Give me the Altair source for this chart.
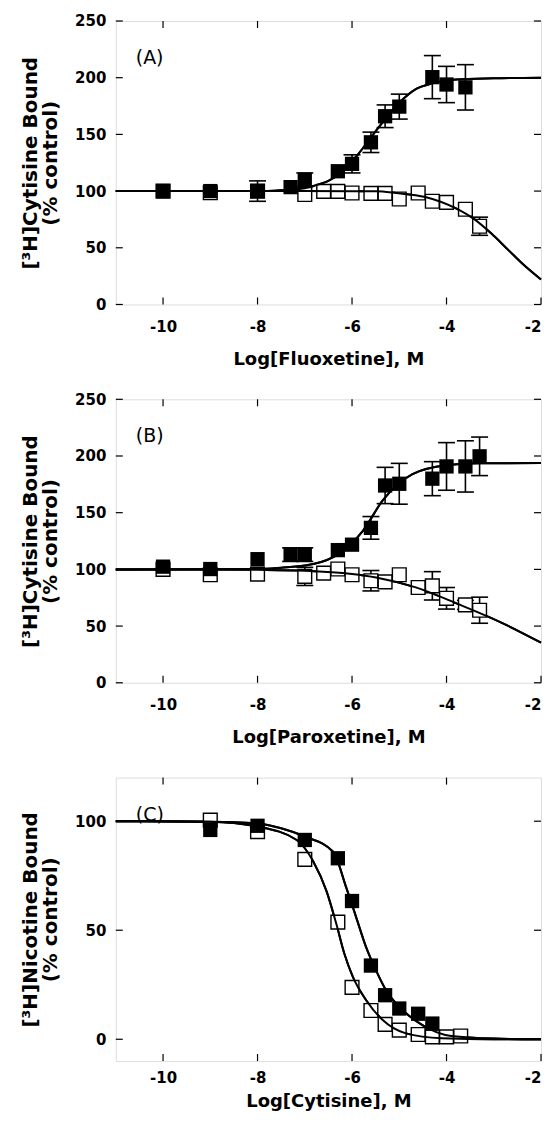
import altair as alt
import pandas as pd

FONT = "DejaVu Sans"
W = 426
H = 284
X_TICKS = [-10, -8, -6, -4, -2]
X_TOP_TICKS = [-10, -8, -6, -4]

# ---------------- Panel A (Fluoxetine) ----------------
A_FILL_X = [-10, -9, -8, -7.3, -7.0, -6.3, -6.0, -5.6, -5.3, -5.0, -4.3, -4.0, -3.6]
A_FILL_Y = [100, 100, 100, 103.5, 110, 117.5, 124, 143, 166, 174.5, 200.5, 194, 191.5]
A_FILL_ERR = [0, 0, 9, 0, 6, 0, 8, 9, 10, 11, 19, 16, 20]
A_OPEN_X = [-10, -9, -8, -7.0, -6.6, -6.3, -6.0, -5.6, -5.3, -5.0, -4.6, -4.3, -4.0, -3.6, -3.3]
A_OPEN_Y = [100, 98.5, 100, 97, 99.7, 99.7, 98.3, 98, 98, 93, 98.3, 91, 90, 84, 69]
A_OPEN_ERR = [0, 0, 0, 0, 0, 0, 0, 0, 0, 0, 0, 0, 0, 0, 8]
A_CURVE_FILL_X = [-11, -8, -7.5, -7.0, -6.82, -6.5, -6.2, -5.91, -5.42, -5.0, -4.65, -4.3, -3.8, -3.0, -2.0]
A_CURVE_FILL_Y = [100, 100, 100.8, 102.5, 104.5, 109, 117, 130.5, 157, 178, 190, 195, 198.5, 199.5, 200]
A_CURVE_OPEN_X = [-11, -7, -6, -5.49, -5.07, -4.45, -3.82, -3.4, -3.05, -2.7, -2.35, -2.0]
A_CURVE_OPEN_Y = [100, 100, 99.9, 99.8, 98.3, 94.8, 85.1, 74.8, 62.5, 48.4, 34.3, 22]

# ---------------- Panel B (Paroxetine) ----------------
B_FILL_X = [-10, -9, -8, -7.3, -7.0, -6.3, -6.0, -5.6, -5.3, -5.0, -4.3, -4.0, -3.6, -3.3]
B_FILL_Y = [102.4, 100.3, 109, 113, 113, 117, 121.8, 136.6, 174, 175.5, 180, 190.8, 190.8, 199.7]
B_FILL_ERR = [0, 0, 0, 6, 6, 0, 0, 10, 16, 18, 15, 21, 22.6, 17]
B_OPEN_X = [-10, -9, -8, -7.0, -6.6, -6.3, -6.0, -5.6, -5.3, -5.0, -4.6, -4.3, -4.0, -3.6, -3.3]
B_OPEN_Y = [100, 95.3, 95.8, 93.8, 96.7, 100.3, 95.3, 90, 89, 95.3, 84, 85.5, 74.5, 68.7, 64]
B_OPEN_ERR = [0, 0, 0, 8, 0, 0, 0, 9, 0, 0, 0, 12.5, 9.5, 4, 11.5]
B_CURVE_FILL_X = [-11, -8, -7.5, -7.0, -6.82, -6.29, -5.77, -5.35, -4.72, -4.0, -3.3, -2.0]
B_CURVE_FILL_Y = [100, 100.3, 101.5, 103.5, 104.7, 113.5, 134, 160.8, 184, 191.8, 193.5, 193.8]
B_CURVE_OPEN_X = [-11, -9, -8, -7.0, -6.0, -5.49, -4.65, -3.75, -2.84, -2.0]
B_CURVE_OPEN_Y = [100, 99.9, 99.6, 98.8, 96, 92.9, 84.1, 69.3, 53.1, 35.4]

# ---------------- Panel C (Cytisine) ----------------
C_FILL_X = [-9, -8, -7, -6.3, -6, -5.6, -5.3, -5, -4.6, -4.3]
C_FILL_Y = [96, 97.9, 91.4, 83, 63.4, 33.8, 20.2, 14.1, 11.7, 7.2]
C_FILL_ERR = [0, 0, 0, 0, 0, 0, 0, 0, 0, 0]
C_OPEN_X = [-9, -8, -7, -6.3, -6, -5.6, -5.3, -5, -4.6, -4.3, -4, -3.7]
C_OPEN_Y = [100.5, 95.2, 82.5, 53.7, 23.8, 13.2, 6.8, 4.2, 2.2, 1.1, 1.1, 1.5]
C_OPEN_ERR = [0, 0, 0, 0, 0, 0, 0, 0, 0, 0, 0, 0]
C_CURVE_FILL_X = [-11, -9, -8, -7.5, -7, -6.4, -6.12, -5.91, -5.7, -5.49, -5.28, -4.93, -4.51, -3.9, -3, -2]
C_CURVE_FILL_Y = [100, 99.8, 99, 96.8, 93, 86, 69.4, 55.8, 42.1, 31.5, 22.5, 13.4, 6.5, 1.5, 0.3, 0]
C_CURVE_OPEN_X = [-11, -9, -8, -7.17, -6.82, -6.54, -6.33, -6.16, -5.98, -5.7, -5.35, -4.86, -4.1, -3, -2]
C_CURVE_OPEN_Y = [100, 99.7, 97.5, 91.4, 81.5, 67.9, 52.7, 39.1, 28.5, 17.9, 8.8, 2.7, 0.5, 0, 0]


def points_df(xs, ys, errs):
    return pd.DataFrame({"x": xs, "y": ys, "err": errs})


def panel(label, xtitle, ytitle, ydomain, yticks, height,
          fill, opened, curve_fill, curve_open, lab_pad, title_pad):
    xs = alt.Scale(domain=[-11, -2], nice=False, zero=False)
    ys = alt.Scale(domain=ydomain, nice=False, zero=False)

    fill_df = points_df(*fill)
    open_df = points_df(*opened)
    err_df = pd.concat([fill_df, open_df], ignore_index=True)
    err_df = err_df[err_df["err"] > 0].copy()
    err_df["lo"] = err_df["y"] - err_df["err"]
    err_df["hi"] = err_df["y"] + err_df["err"]
    caps_df = pd.concat([
        pd.DataFrame({"x": err_df["x"], "c": err_df["lo"]}),
        pd.DataFrame({"x": err_df["x"], "c": err_df["hi"]}),
    ], ignore_index=True)

    curve_df = pd.concat([
        pd.DataFrame({"x": curve_fill[0], "y": curve_fill[1], "s": "filled"}),
        pd.DataFrame({"x": curve_open[0], "y": curve_open[1], "s": "open"}),
    ], ignore_index=True)

    bottom_axis = alt.Axis(orient="bottom", values=X_TICKS, title=xtitle,
                           grid=False, domain=False, ticks=False, tickSize=0,
                           labelExpr="toString(datum.value)",
                           labelPadding=lab_pad, titlePadding=title_pad,
                           labelFont=FONT, labelFontSize=15, labelFontWeight="bold",
                           labelColor="black", labelFlush=True, labelFlushOffset=0,
                           titleFont=FONT, titleFontSize=18, titleFontWeight="bold",
                           titleColor="black")
    left_axis = alt.Axis(orient="left", values=yticks, title=ytitle,
                         grid=False, domain=False, ticks=False, tickSize=0,
                         labelPadding=10, titlePadding=14,
                         labelFont=FONT, labelFontSize=15, labelFontWeight="bold",
                         labelColor="black", labelFlush=False,
                         titleFont=FONT, titleFontSize=20, titleFontWeight="bold",
                         titleColor="black", titleLineHeight=20)

    xt_bottom = pd.DataFrame({"v": X_TICKS})
    xt_top = pd.DataFrame({"v": X_TOP_TICKS})
    yt = pd.DataFrame({"v": yticks})

    layers = []
    # main layer carrying the two labelled axes
    layers.append(
        alt.Chart(curve_df).mark_line(color="black", strokeWidth=2,
                                      interpolate="monotone").encode(
            x=alt.X("x:Q", scale=xs, axis=bottom_axis),
            y=alt.Y("y:Q", scale=ys, axis=left_axis),
            detail="s:N",
        )
    )
    # inward tick marks on all four sides of the frame
    tick_style = dict(color="black", thickness=1.2, size=7, opacity=1)
    layers.append(alt.Chart(xt_bottom).mark_tick(orient="vertical", **tick_style).encode(
        x=alt.X("v:Q", scale=xs, axis=None), y=alt.value(height - 3.5)))
    layers.append(alt.Chart(xt_top).mark_tick(orient="vertical", **tick_style).encode(
        x=alt.X("v:Q", scale=xs, axis=None), y=alt.value(3.5)))
    layers.append(alt.Chart(yt).mark_tick(orient="horizontal", **tick_style).encode(
        y=alt.Y("v:Q", scale=ys, axis=None), x=alt.value(3.5)))
    layers.append(alt.Chart(yt).mark_tick(orient="horizontal", **tick_style).encode(
        y=alt.Y("v:Q", scale=ys, axis=None), x=alt.value(W - 3.5)))

    if len(err_df):
        layers.append(
            alt.Chart(err_df).mark_rule(color="black", strokeWidth=1.6).encode(
                x=alt.X("x:Q", scale=xs, axis=None),
                y=alt.Y("lo:Q", scale=ys, axis=None),
                y2="hi:Q",
            )
        )
        layers.append(
            alt.Chart(caps_df).mark_tick(orient="horizontal", color="black",
                                          size=17, thickness=1.6, opacity=1).encode(
                x=alt.X("x:Q", scale=xs, axis=None),
                y=alt.Y("c:Q", scale=ys, axis=None),
            )
        )
    layers.append(
        alt.Chart(open_df).mark_square(fill="white", stroke="black", strokeWidth=1.4,
                                       size=190, opacity=1).encode(
            x=alt.X("x:Q", scale=xs, axis=None),
            y=alt.Y("y:Q", scale=ys, axis=None),
        )
    )
    # curves drawn again above the open squares
    layers.append(
        alt.Chart(curve_df).mark_line(color="black", strokeWidth=2,
                                      interpolate="monotone").encode(
            x=alt.X("x:Q", scale=xs, axis=None),
            y=alt.Y("y:Q", scale=ys, axis=None),
            detail="s:N",
        )
    )
    layers.append(
        alt.Chart(fill_df).mark_square(color="black", size=205, opacity=1).encode(
            x=alt.X("x:Q", scale=xs, axis=None),
            y=alt.Y("y:Q", scale=ys, axis=None),
        )
    )
    layers.append(
        alt.Chart(pd.DataFrame({"t": [label]})).mark_text(
            align="left", baseline="middle", font=FONT, fontSize=19,
            color="black").encode(
            text="t:N", x=alt.value(20), y=alt.value(37)
        )
    )
    return alt.layer(*layers).resolve_axis(x="independent", y="independent").properties(
        width=W, height=height)


YT_A = ["[³H]Cytisine Bound", "(% control)"]
YT_C = ["[³H]Nicotine Bound", "(% control)"]

pA = panel("(A)", "Log[Fluoxetine], M", YT_A, [0, 250], [0, 50, 100, 150, 200, 250], H,
           (A_FILL_X, A_FILL_Y, A_FILL_ERR), (A_OPEN_X, A_OPEN_Y, A_OPEN_ERR),
           (A_CURVE_FILL_X, A_CURVE_FILL_Y), (A_CURVE_OPEN_X, A_CURVE_OPEN_Y), 15, 16)
pB = panel("(B)", "Log[Paroxetine], M", YT_A, [0, 250], [0, 50, 100, 150, 200, 250], H,
           (B_FILL_X, B_FILL_Y, B_FILL_ERR), (B_OPEN_X, B_OPEN_Y, B_OPEN_ERR),
           (B_CURVE_FILL_X, B_CURVE_FILL_Y), (B_CURVE_OPEN_X, B_CURVE_OPEN_Y), 15, 16)
pC = panel("(C)", "Log[Cytisine], M", YT_C, [-10, 120], [0, 50, 100], H,
           (C_FILL_X, C_FILL_Y, C_FILL_ERR), (C_OPEN_X, C_OPEN_Y, C_OPEN_ERR),
           (C_CURVE_FILL_X, C_CURVE_FILL_Y), (C_CURVE_OPEN_X, C_CURVE_OPEN_Y), 9, 8)

chart = alt.vconcat(pA, pB, pC, spacing=95, bounds="flush").properties(
    padding={"left": 12, "top": 4, "right": 0, "bottom": 0}
).configure_view(stroke="#333", strokeWidth=1.2).configure(background="white")

chart.save("out.html", embed_options={"renderer": "svg", "actions": False})
